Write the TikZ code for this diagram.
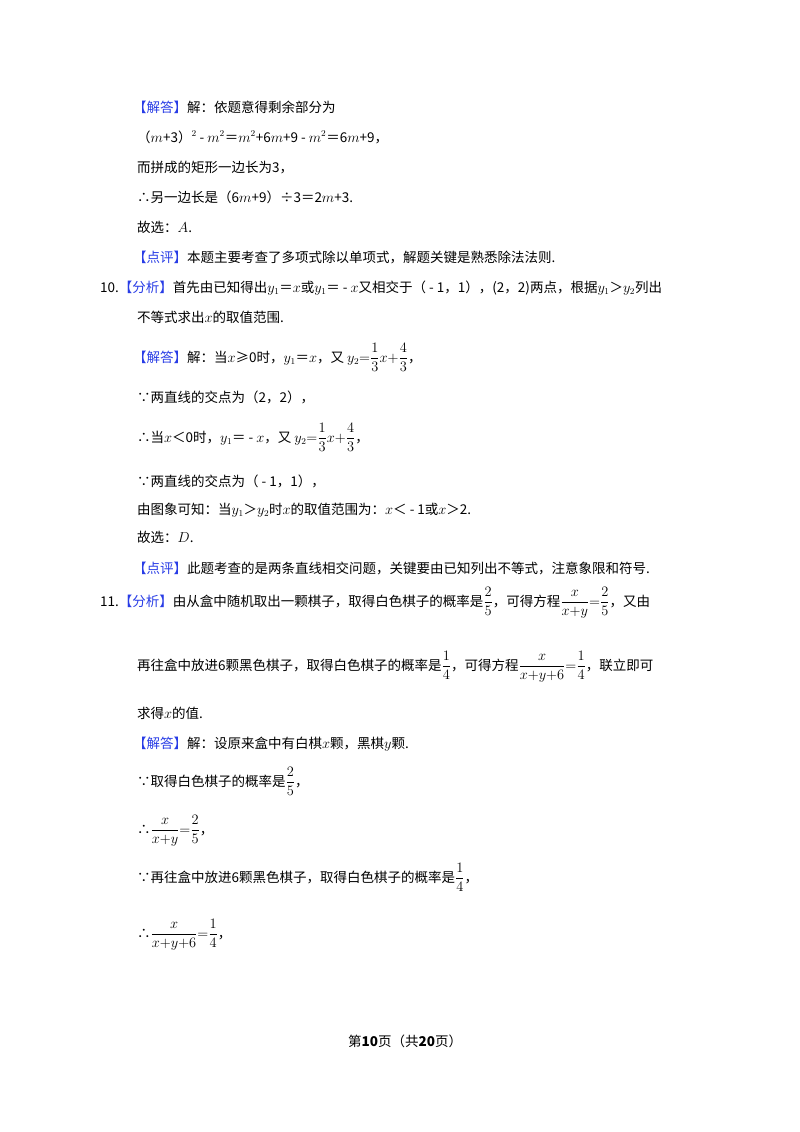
\documentclass[tikz,border=0pt]{standalone}
\usepackage{amsmath}
\usepackage{fontspec}
\setmainfont{Noto Sans CJK SC}
\definecolor{bl}{RGB}{40,60,230}
\newcommand{\bk}[1]{\textcolor{bl}{【#1】}}
\begin{document}
\begin{tikzpicture}[x=1pt,y=-1pt,every node/.style={anchor=base west,inner sep=0pt,font=\fontsize{13.5}{16}\selectfont}]
\useasboundingbox[fill=white] (0,0) rectangle (800,1132);
\node (l1) at (133,112) {\bk{解答}解：依题意得剩余部分为};
\node (l2) at (137,142) {（$m$+3）$^2$ - $m^2$＝$m^2$+6$m$+9 - $m^2$＝6$m$+9，};
\node (l3) at (137,172) {而拼成的矩形一边长为3，};
\node (l4) at (137,202) {∴另一边长是（6$m$+9）÷3＝2$m$+3.};
\node (l5) at (137,232) {故选：$A$.};
\node (l6) at (133,262) {\bk{点评}本题主要考查了多项式除以单项式，解题关键是熟悉除法法则.};
\node (l7) at (100,292) {10.\bk{分析}首先由已知得出$y_1$＝$x$或$y_1$＝ - $x$又相交于（ - 1，1），(2，2)两点，根据$y_1$＞$y_2$列出};
\node (l8) at (137,322) {不等式求出$x$的取值范围.};
\node (l9) at (133,362) {\bk{解答}解：当$x$≥0时，$y_1$＝$x$，又 $y_2{=}\dfrac{1}{3}x{+}\dfrac{4}{3}$，};
\node (l10) at (137,402) {∵两直线的交点为（2，2），};
\node (l11) at (137,442) {∴当$x$＜0时，$y_1$＝ - $x$，又 $y_2{=}\dfrac{1}{3}x{+}\dfrac{4}{3}$，};
\node (l12) at (137,486) {∵两直线的交点为（ - 1，1），};
\node (l13) at (137,514) {由图象可知：当$y_1$＞$y_2$时$x$的取值范围为：$x$＜ - 1或$x$＞2.};
\node (l14) at (137,542) {故选：$D$.};
\node (l15) at (133,573) {\bk{点评}此题考查的是两条直线相交问题，关键要由已知列出不等式，注意象限和符号.};
\node (l16) at (100,606) {11.\bk{分析}由从盒中随机取出一颗棋子，取得白色棋子的概率是$\dfrac{2}{5}$，可得方程$\dfrac{x}{x{+}y}{=}\dfrac{2}{5}$，又由};
\node (l17) at (137,670) {再往盒中放进6颗黑色棋子，取得白色棋子的概率是$\dfrac{1}{4}$，可得方程$\dfrac{x}{x{+}y{+}6}{=}\dfrac{1}{4}$，联立即可};
\node (l18) at (137,718) {求得$x$的值.};
\node (l19) at (133,748) {\bk{解答}解：设原来盒中有白棋$x$颗，黑棋$y$颗.};
\node (l20) at (137,786) {∵取得白色棋子的概率是$\dfrac{2}{5}$，};
\node (l21) at (137,834) {∴$\dfrac{x}{x{+}y}{=}\dfrac{2}{5}$，};
\node (l22) at (137,882) {∵再往盒中放进6颗黑色棋子，取得白色棋子的概率是$\dfrac{1}{4}$，};
\node (l23) at (137,938) {∴$\dfrac{x}{x{+}y{+}6}{=}\dfrac{1}{4}$，};
\node (l24) at (348,1046) {第\textbf{10}页（共\textbf{20}页）};
\end{tikzpicture}
\end{document}
